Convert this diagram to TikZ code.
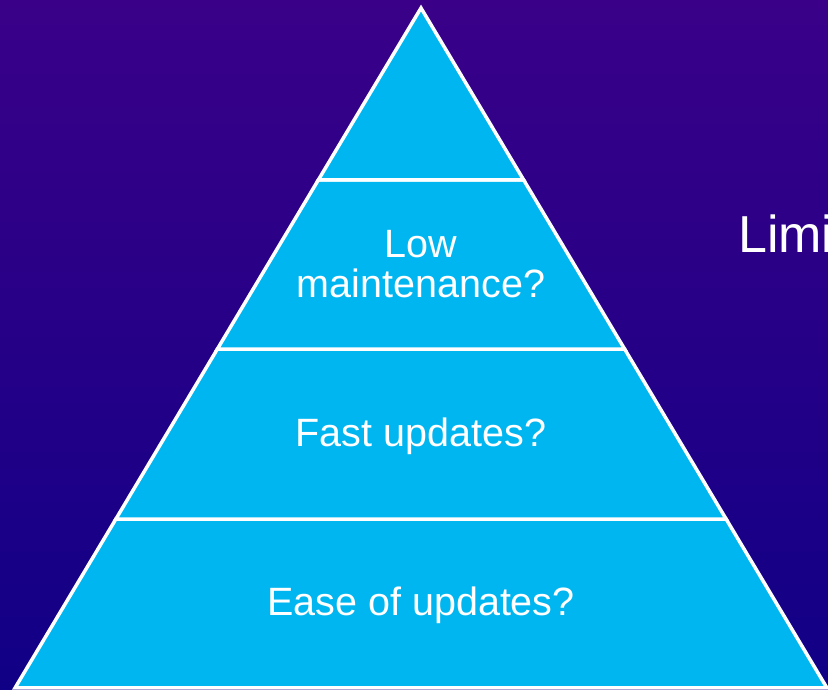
\documentclass[tikz,border=0pt]{standalone}
\usepackage{fontspec}
\setmainfont{Liberation Sans}
\usetikzlibrary{calc}
\definecolor{bgtop}{RGB}{58,0,136}
\definecolor{bgbot}{RGB}{16,0,134}
\definecolor{layerblue}{RGB}{0,182,240}
\tikzset{
  layer/.style={fill=layerblue, draw=white, line width=3.5pt, line join=miter},
  layertext/.style={text=white, font=\fontsize{39.5}{40}\selectfont, align=center, inner sep=0pt},
  sidetext/.style={text=white, font=\fontsize{52}{56}\selectfont, inner sep=0pt, anchor=base west}
}
\begin{document}
\begin{tikzpicture}[x=1pt,y=1pt]
\useasboundingbox (0,0) rectangle (828,690);
\clip (0,0) rectangle (828,690);
\shade[top color=bgtop, bottom color=bgbot] (0,0) rectangle (828,690);
\coordinate (A) at (421,682);
\coordinate (BL) at (15,2);
\coordinate (BR) at (827,2);
\coordinate (L1) at ($(A)!0.2529!(BL)$);
\coordinate (R1) at ($(A)!0.2529!(BR)$);
\coordinate (L2) at ($(A)!0.5015!(BL)$);
\coordinate (R2) at ($(A)!0.5015!(BR)$);
\coordinate (L3) at ($(A)!0.7515!(BL)$);
\coordinate (R3) at ($(A)!0.7515!(BR)$);
\draw[layer] (L3) -- (R3) -- (BR) -- (BL) -- cycle;
\draw[layer] (L2) -- (R2) -- (R3) -- (L3) -- cycle;
\draw[layer] (L1) -- (R1) -- (R2) -- (L2) -- cycle;
\draw[layer] (A) -- (R1) -- (L1) -- cycle;
\node[layertext] (t2) at (421,426) {Low\\maintenance?};
\node[layertext] (t3) at (421,254) {Fast updates?};
\node[layertext] (t4) at (421,85) {Ease of updates?};
\node[sidetext] (side) at (738,437) {Limi};
\end{tikzpicture}
\end{document}
